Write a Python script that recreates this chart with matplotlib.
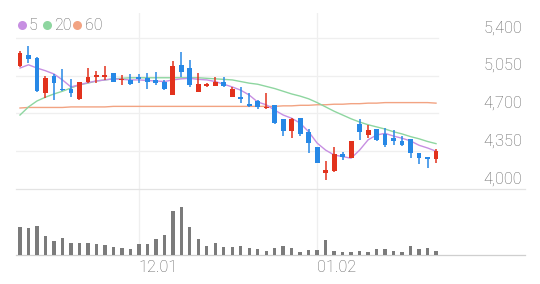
import matplotlib
matplotlib.use('Agg')
import matplotlib.pyplot as plt
import matplotlib.transforms as mtrans
from matplotlib.lines import Line2D
import numpy as np

plt.rcParams['font.family'] = ['Roboto', 'DejaVu Sans']

# ---------------- data ----------------
opens = [5140, 5240, 5215, 4885, 5045, 4930, 4930, 4830, 4995, 5035,
         5040, 5070, 5005, 5010, 5040, 5025, 5005, 4995, 4870, 5150,
         5120, 4895, 4950, 4955, 4995, 4850, 4855, 4785, 4815, 4750,
         4780, 4645, 4535, 4660, 4530, 4385, 4145, 4170, 4320, 4285,
         4600, 4500, 4555, 4510, 4475, 4445, 4460, 4330, 4290, 4275]
closes = [5255, 5200, 4905, 5025, 4985, 4915, 4890, 4995, 5035, 5055,
          5055, 4995, 5020, 4970, 5015, 4995, 4980, 4930, 5140, 5085,
          4965, 4970, 4970, 4995, 4955, 4925, 4835, 4770, 4755, 4760,
          4615, 4535, 4645, 4505, 4425, 4240, 4180, 4325, 4300, 4440,
          4525, 4545, 4455, 4405, 4440, 4405, 4330, 4290, 4280, 4350]
highs = [5280, 5325, 5220, 5045, 5065, 5110, 5015, 4995, 5125, 5095,
         5140, 5075, 5055, 5065, 5065, 5070, 5085, 5010, 5185, 5270,
         5195, 5075, 4980, 5040, 5040, 4945, 4940, 4890, 4825, 4890,
         4780, 4645, 4655, 4660, 4560, 4390, 4255, 4390, 4345, 4440,
         4645, 4595, 4555, 4565, 4545, 4490, 4460, 4330, 4290, 4375]
lows = [5130, 5170, 4900, 4840, 4825, 4910, 4855, 4825, 4980, 4980,
        5010, 4990, 4965, 4965, 4980, 4930, 4965, 4915, 4870, 5040,
        4945, 4895, 4940, 4955, 4940, 4850, 4800, 4760, 4745, 4745,
        4600, 4490, 4475, 4490, 4330, 4240, 4085, 4160, 4270, 4285,
        4455, 4470, 4445, 4390, 4405, 4400, 4285, 4230, 4190, 4245]
ma5 = [5120, 5150, 5120, 5095, 5065, 5010, 4945, 4965, 4985, 5000,
       5010, 5020, 5015, 5010, 5010, 5005, 5000, 4995, 5010, 5020,
       5025, 5015, 5010, 4995, 4970, 4945, 4915, 4870, 4805, 4780,
       4730, 4685, 4655, 4610, 4530, 4425, 4360, 4315, 4300, 4285,
       4360, 4455, 4500, 4515, 4490, 4470, 4445, 4405, 4380, 4350]
ma20 = [4685, 4760, 4815, 4850, 4880, 4905, 4935, 4965, 4980, 5000,
        5010, 5020, 5025, 5030, 5030, 5030, 5030, 5030, 5030, 5030,
        5030, 5030, 5025, 5020, 5015, 5010, 4995, 4980, 4970, 4950,
        4930, 4905, 4880, 4860, 4835, 4800, 4760, 4720, 4685, 4650,
        4620, 4595, 4575, 4555, 4530, 4510, 4485, 4465, 4440, 4420]
ma60 = [4750, 4755, 4755, 4755, 4755, 4755, 4760, 4760, 4760, 4760,
        4760, 4765, 4765, 4765, 4765, 4765, 4765, 4765, 4765, 4765,
        4765, 4765, 4765, 4765, 4765, 4765, 4765, 4765, 4765, 4765,
        4765, 4770, 4770, 4775, 4775, 4780, 4780, 4785, 4785, 4790,
        4790, 4795, 4795, 4800, 4800, 4800, 4800, 4800, 4800, 4795]
volumes = [283, 267, 290, 190, 140, 167, 123, 123, 123, 110,
           100, 83, 67, 60, 107, 110, 157, 200, 440, 483,
           283, 157, 90, 123, 83, 83, 90, 67, 60, 40,
           67, 90, 67, 27, 50, 50, 150, 40, 27, 27,
           40, 33, 60, 60, 40, 33, 90, 60, 67, 40]
price_ticks = [4000, 4350, 4700, 5050, 5400]
price_tick_labels = ["4,000", "4,350", "4,700", "5,050", "5,400"]
date_tick_pos = [14, 35]
date_tick_labels = ["12.01", "01.02"]
legend_labels = ["5", "20", "60"]

# ---------------- style ----------------
UP = '#e2321d'
DOWN = '#2788e6'
C5 = '#c78fe2'
C20 = '#8ed6a0'
C60 = '#f2a382'
GRID = '#efefef'
TXT = '#606060'
FW = 'light'

W, H = 540, 284
fig = plt.figure(figsize=(W / 100, H / 100), dpi=100)

left_px, right_px = 16, 525
top_px, pbot_px, vbot_px = 13, 189, 255
step_px, x0_px = 8.49, 20
grid_end_px = 438
px_per_price = 37.8 / 350.0

ax = fig.add_axes([left_px / W, 1 - pbot_px / H, (right_px - left_px) / W, (pbot_px - top_px) / H])
axv = fig.add_axes([left_px / W, 1 - vbot_px / H, (right_px - left_px) / W, (vbot_px - pbot_px) / H])

xlim = ((left_px - x0_px) / step_px, (right_px - x0_px) / step_px)
n = len(closes)
x = np.arange(n)

for a in (ax, axv):
    a.set_xlim(*xlim)
    a.set_xticks([])
    a.set_yticks([])
    for s in a.spines.values():
        s.set_visible(False)
    for p in date_tick_pos:
        a.axvline(p, color=GRID, lw=0.9, zorder=0)

ymin = price_ticks[0]
ax.set_ylim(ymin, ymin + (pbot_px - top_px) / px_per_price)

grid_end = (grid_end_px - x0_px) / step_px
for t in price_ticks[1:]:
    ax.plot([xlim[0], grid_end], [t, t], color=GRID, lw=0.9, zorder=0)

lab_x = (522 - x0_px) / step_px
off = mtrans.offset_copy(ax.transData, fig=fig, x=0, y=5.5, units='dots')
for t, lab in zip(price_ticks, price_tick_labels):
    ax.text(lab_x, t, lab, transform=off, ha='right', va='baseline',
            fontsize=11.8, color=TXT, fontweight=FW, clip_on=False)

# moving averages
ax.plot(x, ma60, color=C60, lw=1.0, zorder=2)
ax.plot(x, ma20, color=C20, lw=1.0, zorder=2)
ax.plot(x, ma5, color=C5, lw=1.0, zorder=2)

# candles
o = np.array(opens); c = np.array(closes)
hi = np.array(highs); lo = np.array(lows)
up = c >= o
cols = np.where(up, UP, DOWN)
ax.vlines(x, lo, hi, colors=cols, lw=1.1, zorder=3)
bottom = np.minimum(o, c)
height = np.maximum(np.abs(c - o), 12)
ax.bar(x, height, bottom=bottom, width=0.57, color=cols, zorder=4, linewidth=0)

# volume
axv.bar(x, volumes, width=0.4, color='#7b7b7b', zorder=3, linewidth=0)
axv.set_ylim(0, max(volumes) * 66 / 48.3)
axv.spines['top'].set_visible(True)
axv.spines['top'].set_color('#e3e3e3')
axv.spines['top'].set_linewidth(0.9)
axv.spines['bottom'].set_visible(True)
axv.spines['bottom'].set_color('#cfcfcf')
axv.spines['bottom'].set_linewidth(0.9)

lab_tr = mtrans.blended_transform_factory(axv.transData, axv.transAxes)
for p, lab in zip(date_tick_pos, date_tick_labels):
    axv.text(p, -(267.5 - vbot_px) / (vbot_px - pbot_px), lab, transform=lab_tr,
             ha='left', va='center', fontsize=11.8, color=TXT, fontweight=FW, clip_on=False)

# legend
leg_cols = [C5, C20, C60]
dot_px = [21.5, 46.7, 77]
txt_px = [29, 54, 85]
for d, tx, col, lab in zip(dot_px, txt_px, leg_cols, legend_labels):
    fig.add_artist(Line2D([d / W], [1 - 25 / H], marker='o', markersize=6.5,
                          color=col, markeredgewidth=0, transform=fig.transFigure))
    fig.text(tx / W, 1 - 25 / H, lab, ha='left', va='center', fontsize=11.5,
             color=TXT, fontweight=FW)

fig.savefig('out.png', dpi=100)
